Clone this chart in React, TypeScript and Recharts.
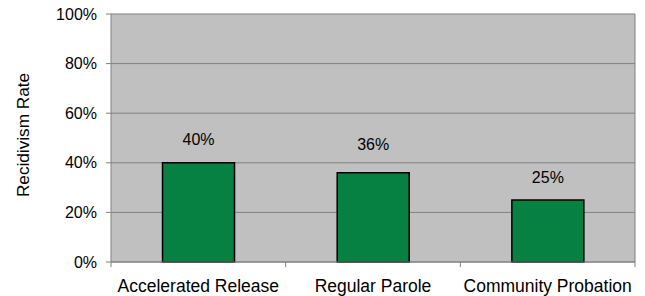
import { BarChart, Bar, XAxis, YAxis, CartesianGrid, LabelList, Label } from "recharts";

const CATEGORIES = ["Accelerated Release", "Regular Parole", "Community Probation"];
const RATES = [40, 36, 25];
const Y_TICKS = [0, 20, 40, 60, 80, 100];

// the source places its value labels a little unevenly above the bars
const LABEL_NUDGE = [0, -5, 1];

// bars sit on a numeric axis so tick marks can fall on category boundaries
const data = CATEGORIES.map((name, i) => ({ name, x: i + 0.5, rate: RATES[i] }));
const X_TICKS = Array.from({ length: CATEGORIES.length * 2 + 1 }, (_, i) => i / 2);

const FONT = "Arial, 'Liberation Sans', sans-serif";
const AXIS_GRAY = "#808080";

function BottomTick(props: any) {
  const { x, y, payload } = props;
  const v = payload.value as number;
  if (Number.isInteger(v)) {
    return <line x1={x} x2={x} y1={y} y2={y + 5} stroke={AXIS_GRAY} strokeWidth={1} />;
  }
  return (
    <text x={x} y={y + 18} dy="0.71em" textAnchor="middle" fill="#000" fontSize={17.5} fontFamily={FONT}>
      {CATEGORIES[Math.floor(v)]}
    </text>
  );
}

function ValueLabel(props: any) {
  const { x, y, width, value, index } = props;
  return (
    <text
      x={x + width / 2}
      y={y - 18 + (LABEL_NUDGE[index] ?? 0)}
      textAnchor="middle"
      fill="#000"
      fontSize={16}
      fontFamily={FONT}
    >
      {`${value}%`}
    </text>
  );
}

function YTitle(props: any) {
  const { viewBox } = props;
  const cx = viewBox.x + 23;
  const cy = viewBox.y + viewBox.height / 2 - 3;
  return (
    <text
      x={cx}
      y={cy}
      transform={`rotate(-90 ${cx} ${cy})`}
      textAnchor="middle"
      dominantBaseline="central"
      fill="#000"
      fontSize={17.2}
      fontFamily={FONT}
    >
      Recidivism Rate
    </text>
  );
}

export default function App() {
  return (
    <div style={{ position: "absolute", left: 0, top: 0, fontFamily: FONT }}>
      <BarChart
        width={645}
        height={296}
        data={data}
        margin={{ top: 14, right: 10, left: 0, bottom: 0 }}
        barCategoryGap="29.5%"
      >
        <CartesianGrid
          fill="#C0C0C0"
          stroke={AXIS_GRAY}
          verticalCoordinatesGenerator={({ offset }: any) => [offset.left + offset.width]}
        />
        <XAxis
          dataKey="x"
          type="number"
          domain={[0, CATEGORIES.length]}
          ticks={X_TICKS}
          interval={0}
          height={34}
          tickLine={false}
          tickSize={0}
          tickMargin={0}
          tick={<BottomTick />}
          axisLine={{ stroke: AXIS_GRAY }}
        />
        <YAxis
          domain={[0, 100]}
          ticks={Y_TICKS}
          interval={0}
          width={111}
          tickSize={5}
          tickMargin={9}
          tickFormatter={(v) => `${v}%`}
          tick={{ fill: "#000", fontSize: 16, fontFamily: FONT }}
          tickLine={{ stroke: AXIS_GRAY }}
          axisLine={{ stroke: AXIS_GRAY }}
        >
          <Label content={<YTitle />} />
        </YAxis>
        <Bar dataKey="rate" fill="#078141" stroke="#000" strokeWidth={1.5} isAnimationActive={false}>
          <LabelList dataKey="rate" content={<ValueLabel />} />
        </Bar>
      </BarChart>
    </div>
  );
}
